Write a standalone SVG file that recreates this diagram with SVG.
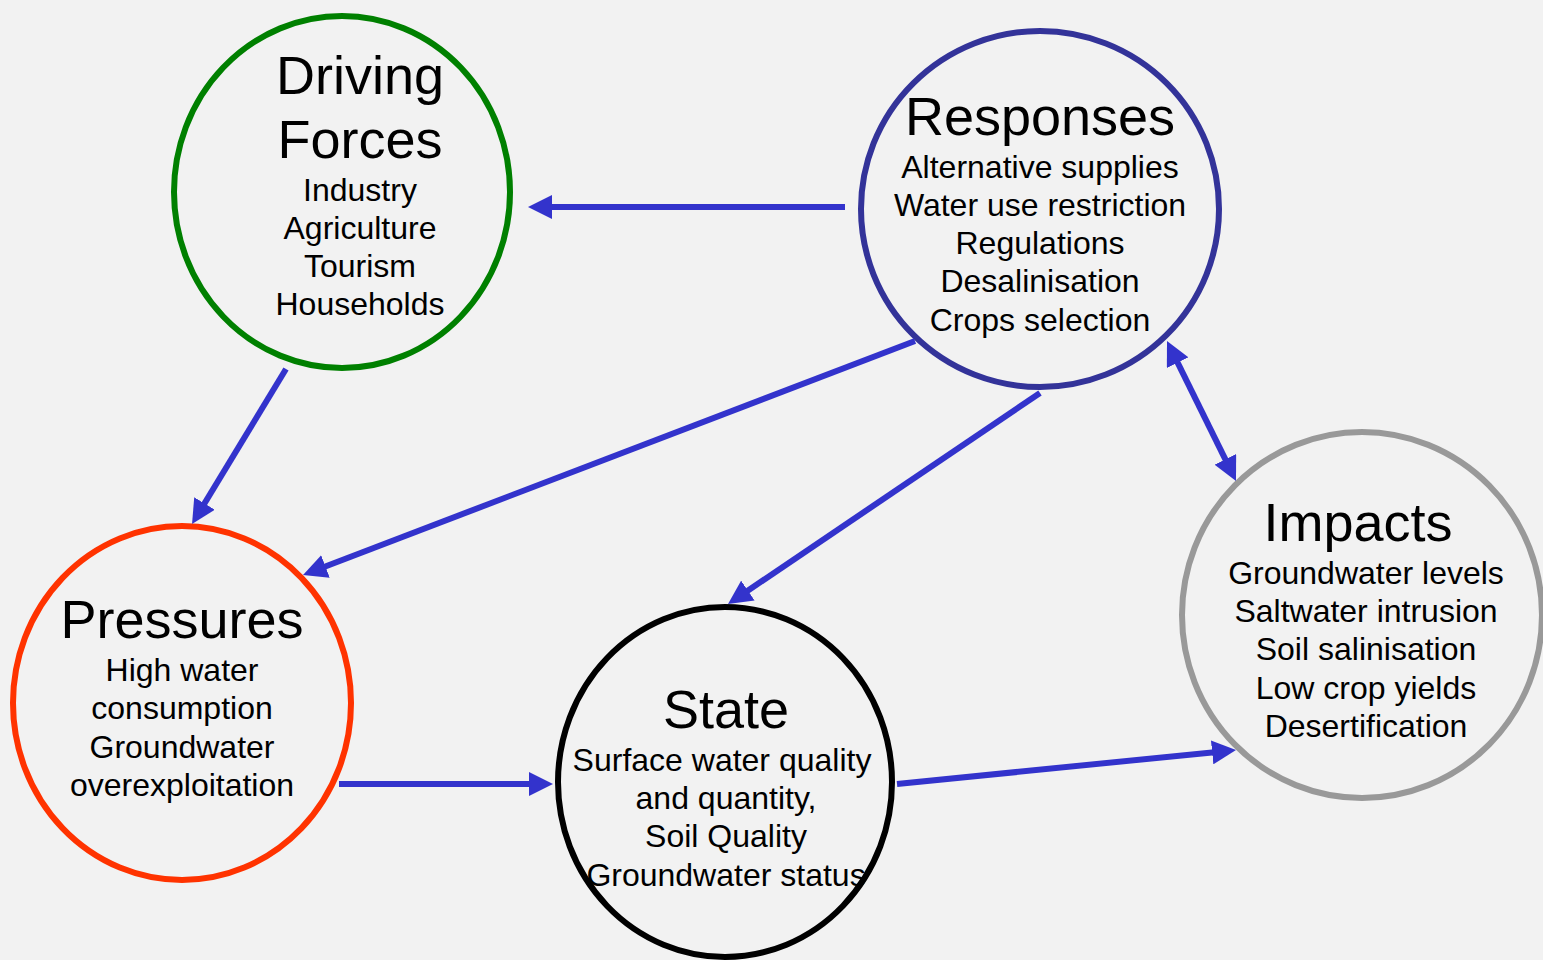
<svg xmlns="http://www.w3.org/2000/svg" width="1543" height="960" viewBox="0 0 1543 960">
<defs>
<marker id="ah" viewBox="0 0 24 24" refX="10" refY="12" markerWidth="24" markerHeight="24" markerUnits="userSpaceOnUse" orient="auto-start-reverse">
<path d="M0,0 L24,12 L0,24 z" fill="#3333cc"/>
</marker>
<style>
.node{fill:none;stroke-width:6}
.t{font-family:"Liberation Sans",Arial,sans-serif;fill:#000;text-anchor:middle}
.h{font-size:54px}
.b{font-size:32px}
.c line{stroke:#3333cc;stroke-width:6;marker-end:url(#ah)}
</style>
</defs>
<rect width="1543" height="960" fill="#f2f2f2"/>
<g id="driving">
<ellipse class="node" cx="342" cy="192" rx="168" ry="176" stroke="#008000"/>
<text class="t h" x="360" y="94">Driving</text>
<text class="t h" x="360" y="158">Forces</text>
<text class="t b" x="360" y="201">Industry</text>
<text class="t b" x="360" y="239">Agriculture</text>
<text class="t b" x="360" y="277">Tourism</text>
<text class="t b" x="360" y="315">Households</text>
</g>
<g id="responses">
<ellipse class="node" cx="1040" cy="209" rx="179" ry="178" stroke="#333399"/>
<text class="t h" x="1040" y="135">Responses</text>
<text class="t b" x="1040" y="178">Alternative supplies</text>
<text class="t b" x="1040" y="216">Water use restriction</text>
<text class="t b" x="1040" y="254">Regulations</text>
<text class="t b" x="1040" y="292">Desalinisation</text>
<text class="t b" x="1040" y="331">Crops selection</text>
</g>
<g id="pressures">
<ellipse class="node" cx="182" cy="703" rx="169" ry="177" stroke="#ff3300"/>
<text class="t h" x="182" y="638">Pressures</text>
<text class="t b" x="182" y="681">High water</text>
<text class="t b" x="182" y="719">consumption</text>
<text class="t b" x="182" y="758">Groundwater</text>
<text class="t b" x="182" y="796">overexploitation</text>
</g>
<g id="state">
<ellipse class="node" cx="725" cy="782" rx="167" ry="175" stroke="#000000"/>
<text class="t h" x="726" y="728">State</text>
<text class="t b" x="722" y="771">Surface water quality</text>
<text class="t b" x="726" y="809">and quantity,</text>
<text class="t b" x="726" y="847">Soil Quality</text>
<text class="t b" x="726" y="886">Groundwater status</text>
</g>
<g id="impacts">
<ellipse class="node" cx="1362" cy="615" rx="180" ry="183" stroke="#999999"/>
<text class="t h" x="1358" y="541">Impacts</text>
<text class="t b" x="1366" y="584">Groundwater levels</text>
<text class="t b" x="1366" y="622">Saltwater intrusion</text>
<text class="t b" x="1366" y="660">Soil salinisation</text>
<text class="t b" x="1366" y="699">Low crop yields</text>
<text class="t b" x="1366" y="737">Desertification</text>
</g>
<g id="connectors" class="c">
<line x1="845" y1="207" x2="542" y2="207"/>
<line x1="286" y1="369" x2="199.3" y2="512"/>
<line x1="915" y1="341" x2="316.1" y2="570"/>
<line x1="1040" y1="393" x2="739.6" y2="596.2"/>
<line x1="339" y1="784" x2="539" y2="784"/>
<line x1="897" y1="784" x2="1222.1" y2="751.4"/>
<line x1="1173.2" y1="353.6" x2="1229.8" y2="468.4" style="marker-start:url(#ah)"/>
</g>
</svg>
